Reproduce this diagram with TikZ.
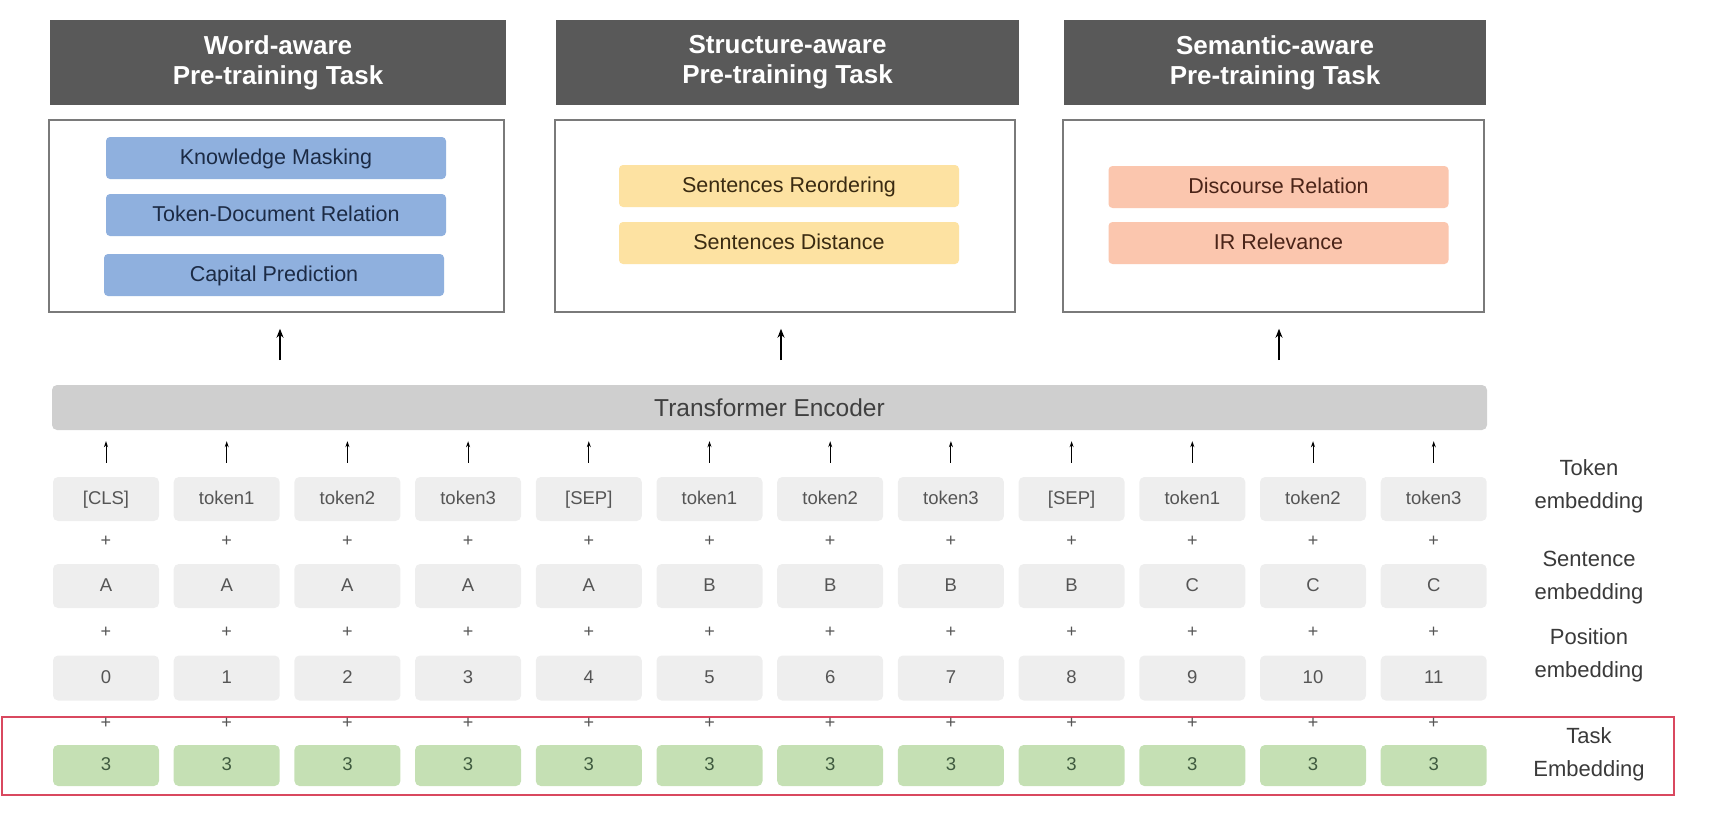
\documentclass[tikz,border=0pt]{standalone}
\usepackage{fontspec}
\setmainfont{Liberation Sans}
\usetikzlibrary{arrows.meta}
\definecolor{hdrgray}{HTML}{595959}
\definecolor{bordergray}{HTML}{7A7A7A}
\definecolor{bluefill}{HTML}{8FB0DE}
\definecolor{bluetext}{HTML}{1C2B45}
\definecolor{yelfill}{HTML}{FDE2A2}
\definecolor{yeltext}{HTML}{3A2B12}
\definecolor{salfill}{HTML}{FBC6AE}
\definecolor{saltext}{HTML}{4A2418}
\definecolor{trgray}{HTML}{CFCFCF}
\definecolor{trtext}{HTML}{404040}
\definecolor{tokgray}{HTML}{EEEEEE}
\definecolor{toktext}{HTML}{555555}
\definecolor{grnfill}{HTML}{C5E0B4}
\definecolor{grntext}{HTML}{3F5A3F}
\definecolor{redline}{HTML}{D9485F}
\definecolor{lbltext}{HTML}{3A3A3A}
\begin{document}
\begin{tikzpicture}[x=1pt,y=-1pt,
  hdr/.style={fill=hdrgray, text=white, font=\bfseries\fontsize{26}{30}\selectfont, align=center, minimum height=85pt, inner sep=0pt},
  cont/.style={draw=bordergray, line width=1.5pt, fill=white, minimum height=192pt, inner sep=0pt},
  taskbox/.style={rounded corners=4pt, minimum width=340pt, minimum height=42pt, inner sep=0pt, text height=16.5pt, text depth=4.5pt, font=\fontsize{21.5}{24}\selectfont},
  emb/.style={rounded corners=5pt, minimum width=106pt, minimum height=44pt, inner sep=0pt, text height=14pt, text depth=4pt, fill=tokgray, text=toktext, font=\fontsize{18.5}{20}\selectfont},
  taskemb/.style={emb, fill=grnfill, text=grntext, minimum height=41pt},
  plus/.style={text=toktext, font=\fontsize{18}{20}\selectfont, inner sep=0pt},
  lbl/.style={text=lbltext, align=center, font=\fontsize{22}{33}\selectfont, inner sep=0pt},
  bigarr/.style={line width=1.4pt, -{Stealth[length=9pt,width=7pt]}},
  smallarr/.style={line width=0.9pt, -{Stealth[length=6pt,width=4pt]}}
]
\useasboundingbox (0,0) rectangle (1712,824);

% headers
\node[hdr, minimum width=456pt] (h1) at (278,62.5) {Word-aware\\Pre-training Task};
\node[hdr, minimum width=463pt] (h2) at (787.5,62.5) {Structure-aware\\Pre-training Task};
\node[hdr, minimum width=422pt] (h3) at (1275,62.5) {Semantic-aware\\Pre-training Task};

% content boxes
\node[cont, minimum width=455pt] (c1) at (276.5,216) {};
\node[cont, minimum width=460pt] (c2) at (785,216) {};
\node[cont, minimum width=421pt] (c3) at (1273.5,216) {};

% task boxes
\node[taskbox, fill=bluefill, text=bluetext] (w1) at (276,158) {Knowledge Masking};
\node[taskbox, fill=bluefill, text=bluetext] (w2) at (276,215) {Token-Document Relation};
\node[taskbox, fill=bluefill, text=bluetext] (w3) at (274,275) {Capital Prediction};
\node[taskbox, fill=yelfill, text=yeltext] (s1) at (789,186) {Sentences Reordering};
\node[taskbox, fill=yelfill, text=yeltext] (s2) at (789,243) {Sentences Distance};
\node[taskbox, fill=salfill, text=saltext] (m1) at (1278.5,187) {Discourse Relation};
\node[taskbox, fill=salfill, text=saltext] (m2) at (1278.5,243) {IR Relevance};

% transformer
\node[fill=trgray, rounded corners=5pt, minimum width=1435pt, minimum height=45pt, inner sep=0pt,
      text=trtext, font=\fontsize{24.5}{28}\selectfont] (tr) at (769.5,407.5) {Transformer Encoder};

% arrows to task boxes
\coordinate (a1) at (280,360);
\coordinate (a2) at (781,360);
\coordinate (a3) at (1279,360);
\draw[bigarr, shorten >=16pt] (a1) -- (a1 |- c1.south);
\draw[bigarr, shorten >=16pt] (a2) -- (a2 |- c2.south);
\draw[bigarr, shorten >=16pt] (a3) -- (a3 |- c3.south);

% red task frame
\node[draw=redline, line width=1.3pt, minimum width=1672pt, minimum height=78pt, inner sep=0pt] (frame) at (838,756) {};

% embedding columns
\foreach \i/\tok/\sen/\pos in {0/{[CLS]}/A/0, 1/token1/A/1, 2/token2/A/2, 3/token3/A/3,
   4/{[SEP]}/A/4, 5/token1/B/5, 6/token2/B/6, 7/token3/B/7,
   8/{[SEP]}/B/8, 9/token1/C/9, 10/token2/C/10, 11/token3/C/11} {
  \pgfmathsetmacro\cx{106+\i*120.7}
  \node[emb] (tok\i) at (\cx,499) {\tok};
  \node[plus] (p1\i) at (\cx,541) {+};
  \node[emb] (sen\i) at (\cx,586) {\sen};
  \node[plus] (p2\i) at (\cx,632) {+};
  \node[emb, minimum height=45pt] (pos\i) at (\cx,678) {\pos};
  \node[plus] (p3\i) at (\cx,723) {+};
  \node[taskemb] (te\i) at (\cx,765.5) {3};
  \draw[smallarr, shorten <=14pt, shorten >=11pt] (tok\i.north) -- (tok\i.north |- tr.south);
}

% row labels
\node[lbl] (l1) at (1589,486) {Token\\embedding};
\node[lbl] (l2) at (1589,578) {Sentence\\embedding};
\node[lbl] (l3) at (1589,655) {Position\\embedding};
\node[lbl] (l4) at (1589,754) {Task\\Embedding};
\end{tikzpicture}
\end{document}
